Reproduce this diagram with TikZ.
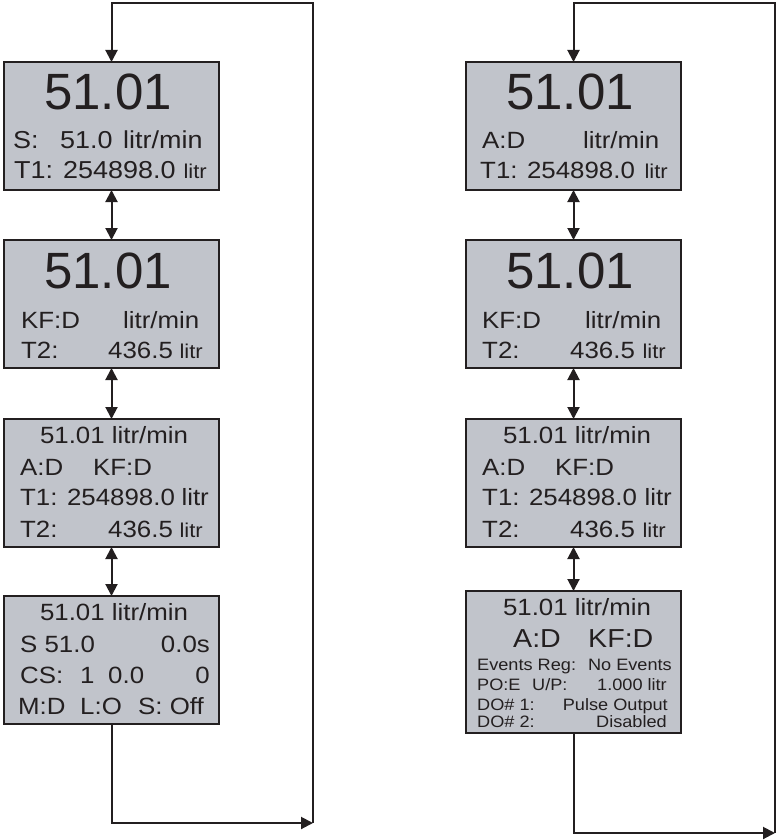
\documentclass[tikz,border=0pt]{standalone}
\usepackage{fontspec}
\setmainfont[FakeStretch=1.1]{Liberation Sans}
\newfontfamily\plainsans{Liberation Sans}
\usetikzlibrary{arrows.meta}
\definecolor{boxgray}{RGB}{193,196,203}
\definecolor{ink}{RGB}{35,31,32}
\newcommand\fbig{\plainsans\fontsize{51}{51}\selectfont}
\newcommand\fmed{\fontsize{23.5}{24}\selectfont}
\newcommand\fmedL{\fontsize{24.5}{25}\selectfont}
\newcommand\fsml{\fontsize{20}{20}\selectfont}
\newcommand\fev{\fontsize{16.5}{17}\selectfont}
\newcommand\fad{\fontsize{26}{26}\selectfont}
\tikzset{
  box/.style={draw=ink, line width=2pt, fill=boxgray, minimum width=215pt, minimum height=128pt, inner sep=0pt, outer sep=0pt, anchor=north west},
  tw/.style={anchor=base west, inner sep=0pt, text=ink, font=\fmed},
  te/.style={anchor=base east, inner sep=0pt, text=ink, font=\fmed},
  tc/.style={anchor=base, inner sep=0pt, text=ink, font=\fmed},
  big/.style={anchor=base, inner sep=0pt, text=ink, font=\fbig},
  conn/.style={draw=ink, line width=2pt},
  tip/.style={-{Triangle[length=12pt,width=12pt]}},
  dtip/.style={{Triangle[length=12pt,width=12pt]}-{Triangle[length=12pt,width=12pt]}}
}
\begin{document}
\begin{tikzpicture}[x=1pt,y=-1pt]
\useasboundingbox (0,0) rectangle (778,840);
% ---------- left column ----------
\node[box] (L1) at (4,62) {};
\node[box] (L2) at (4,240) {};
\node[box] (L3) at (4,419) {};
\node[box] (L4) at (4,596) {};
% L1
\node[big] (L1big) at (108,110) {51.01};
\node[tw,font=\fmedL] (L1s) at (13,148) {S:};
\node[tw,font=\fmedL] (L1sv) at (60,148) {51.0};
\node[tw,font=\fmedL] (L1su) at (123,148) {litr/min};
\node[tw,font=\fmedL] (L1t) at (14,178) {T1: 254898.0};
\node[te,font=\fsml] (L1tu) at (207,178) {litr};
% L2
\node[big] (L2big) at (108,288) {51.01};
\node[tw] (L2k) at (21,328) {KF:D};
\node[tw] (L2ku) at (123,328) {litr/min};
\node[tw] (L2t) at (21,358) {T2:};
\node[tw] (L2tv) at (108,358) {436.5};
\node[te,font=\fsml] (L2tu) at (203,358) {litr};
% L3
\node[tc] (L3h) at (114,443) {51.01 litr/min};
\node[tw] (L3a) at (20,475) {A:D};
\node[tw] (L3k) at (93,475) {KF:D};
\node[tw] (L3t1) at (20,505) {T1: 254898.0};
\node[te] (L3t1u) at (209,505) {litr};
\node[tw] (L3t2) at (20,537) {T2:};
\node[tw] (L3t2v) at (108,537) {436.5};
\node[te,font=\fsml] (L3t2u) at (203,537) {litr};
% L4
\node[tc] (L4h) at (114,620) {51.01 litr/min};
\node[tw] (L4s) at (20,652) {S 51.0};
\node[te] (L4sv) at (210,652) {0.0s};
\node[tw] (L4cs) at (20,683) {CS:};
\node[tw] (L4c1) at (80,683) {1};
\node[tw] (L4c2) at (108,683) {0.0};
\node[te] (L4c3) at (210,683) {0};
\node[tw] (L4m) at (18,714) {M:D};
\node[tw] (L4l) at (80,714) {L:O};
\node[tw] (L4o) at (138,714) {S: Off};
% left connectors
\coordinate (LBL) at (L4.south |- 0,823);
\coordinate (LBR) at (313,823);
\coordinate (LTR) at (313,3);
\coordinate (LTL) at (L1.north |- 0,3);
\draw[conn,dtip] (L1.south) -- (L2.north);
\draw[conn,dtip] (L2.south) -- (L3.north);
\draw[conn,dtip] (L3.south) -- (L4.north);
\draw[conn,tip] (L4.south) -- (LBL) -- (LBR);
\draw[conn,tip] (LBR) -- (LTR) -- (LTL) -- (L1.north);
% ---------- right column ----------
\node[box] (R1) at (466,62) {};
\node[box] (R2) at (466,240) {};
\node[box] (R3) at (466,419) {};
\node[box, minimum height=142pt] (R4) at (466,591) {};
% R1
\node[big] (R1big) at (570,110) {51.01};
\node[tw] (R1a) at (482,148) {A:D};
\node[tw] (R1au) at (583,148) {litr/min};
\node[tw] (R1t) at (480,178) {T1: 254898.0};
\node[te,font=\fsml] (R1tu) at (668,178) {litr};
% R2
\node[big] (R2big) at (570,288) {51.01};
\node[tw] (R2k) at (482,328) {KF:D};
\node[tw] (R2ku) at (585,328) {litr/min};
\node[tw] (R2t) at (482,358) {T2:};
\node[tw] (R2tv) at (570,358) {436.5};
\node[te,font=\fsml] (R2tu) at (666,358) {litr};
% R3
\node[tc] (R3h) at (577,443) {51.01 litr/min};
\node[tw] (R3a) at (482,475) {A:D};
\node[tw] (R3k) at (555,475) {KF:D};
\node[tw] (R3t1) at (482,505) {T1: 254898.0};
\node[te] (R3t1u) at (672,505) {litr};
\node[tw] (R3t2) at (482,537) {T2:};
\node[tw] (R3t2v) at (570,537) {436.5};
\node[te,font=\fsml] (R3t2u) at (666,537) {litr};
% R4
\node[tc] (R4h) at (577,615) {51.01 litr/min};
\node[tw,font=\fad] (R4a) at (513,647) {A:D};
\node[tw,font=\fad] (R4k) at (588,647) {KF:D};
\node[tw,font=\fev] (R4e) at (477,670) {Events Reg:};
\node[te,font=\fev] (R4ev) at (672,670) {No Events};
\node[tw,font=\fev] (R4p) at (477,690) {PO:E};
\node[tw,font=\fev] (R4u) at (532,690) {U/P:};
\node[te,font=\fev] (R4uv) at (667,690) {1.000 litr};
\node[tw,font=\fev] (R4d1) at (477,710) {DO\# 1:};
\node[te,font=\fev] (R4d1v) at (668,710) {Pulse Output};
\node[tw,font=\fev] (R4d2) at (477,727) {DO\# 2:};
\node[te,font=\fev] (R4d2v) at (667,727) {Disabled};
% right connectors
\coordinate (RBL) at (R4.south |- 0,833);
\coordinate (RBR) at (775,833);
\coordinate (RTR) at (775,3);
\coordinate (RTL) at (R1.north |- 0,3);
\draw[conn,dtip] (R1.south) -- (R2.north);
\draw[conn,dtip] (R2.south) -- (R3.north);
\draw[conn,dtip] (R3.south) -- (R4.north);
\draw[conn,tip] (R4.south) -- (RBL) -- (RBR);
\draw[conn,tip] (RBR) -- (RTR) -- (RTL) -- (R1.north);
\end{tikzpicture}
\end{document}
